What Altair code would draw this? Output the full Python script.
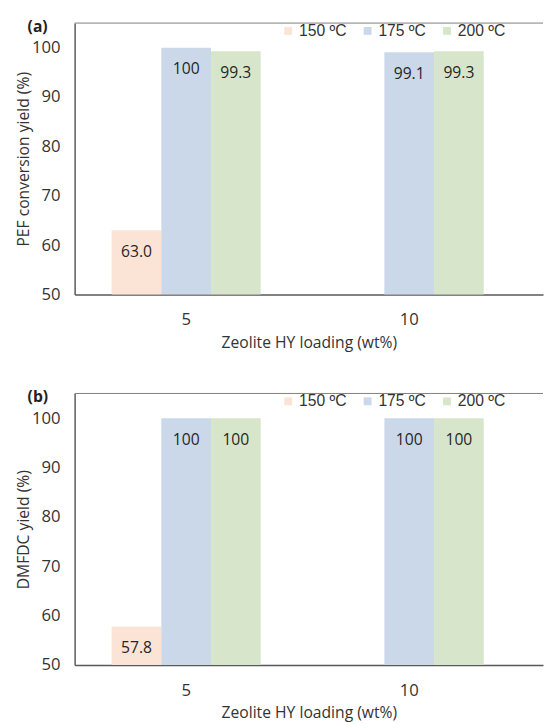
import altair as alt
import pandas as pd

loadings = ["5", "10"]
temps = ["150 ºC", "175 ºC", "200 ºC"]
colors = ["#FBE4D6", "#CBD8EA", "#D7E6CB"]

# Panel (a): PEF conversion yield (%)
pef_150 = [63.0, None]
pef_175 = [100.0, 99.1]
pef_200 = [99.3, 99.3]

# Panel (b): DMFDC yield (%)
dmfdc_150 = [57.8, None]
dmfdc_175 = [100.0, 100.0]
dmfdc_200 = [100.0, 100.0]

y_ticks = [50, 60, 70, 80, 90, 100]
AXIS_FONT = "Open Sans"
TXT = "#333333"


def panel(v150, v175, v200, ytitle, tag, h):
    rows = []
    for series, vals in zip(temps, [v150, v175, v200]):
        for l, v in zip(loadings, vals):
            if v is None:
                continue
            rows.append({"loading": l, "temp": series, "value": v,
                         "label": "100" if v == 100 else f"{v:.1f}"})
    df = pd.DataFrame(rows)

    x = alt.X("loading:N", sort=loadings,
              scale=alt.Scale(paddingInner=0, paddingOuter=0.05, align=0),
              axis=alt.Axis(title="Zeolite HY loading (wt%)", labelAngle=0, ticks=False,
                            domainColor="#595959", domainWidth=1.5,
                            labelPadding=18, titlePadding=7,
                            labelFont=AXIS_FONT, labelFontSize=17, labelColor=TXT,
                            titleFont=AXIS_FONT, titleFontSize=16, titleFontWeight="normal",
                            titleColor=TXT))
    xo = alt.XOffset("temp:N", sort=temps,
                     scale=alt.Scale(domain=temps, paddingInner=0, paddingOuter=0.745))
    y = alt.Y("value:Q",
              scale=alt.Scale(domain=[50, 105], nice=False, zero=False),
              axis=alt.Axis(values=y_ticks, grid=False, ticks=False, title=ytitle,
                            domainColor="#595959", domainWidth=1.5,
                            labelPadding=15, titlePadding=0,
                            labelFont=AXIS_FONT, labelFontSize=17, labelColor=TXT,
                            titleFont=AXIS_FONT, titleFontSize=16, titleFontWeight="normal",
                            titleColor=TXT))

    bars = alt.Chart(df).mark_bar().encode(
        x=x, xOffset=xo, y=y, y2=alt.datum(50),
        color=alt.Color("temp:N",
                        scale=alt.Scale(domain=temps, range=colors),
                        legend=alt.Legend(title=None, orient="none", legendX=210, legendY=0,
                                          direction="horizontal", symbolType="square",
                                          symbolSize=64, symbolStrokeWidth=0,
                                          labelFont="Liberation Sans", labelFontSize=16,
                                          labelColor=TXT, labelOffset=3, columnPadding=13)),
    )
    text = alt.Chart(df).mark_text(dy=22, font=AXIS_FONT, fontSize=16, color="#262626").encode(
        x=x, xOffset=xo, y="value:Q", text="label:N")
    one = pd.DataFrame({"a": [0]})
    top = alt.Chart(one).mark_rule(color="#808080", strokeWidth=1).encode(y=alt.datum(105))
    tagm = alt.Chart(one).mark_text(font=AXIS_FONT, fontSize=16, fontWeight="bold",
                                    color="#222222", align="left", baseline="middle").encode(
        x=alt.value(-48), y=alt.value(4), text=alt.value(tag))
    return alt.layer(bars, text, top, tagm).properties(width=478, height=h)


a = panel(pef_150, pef_175, pef_200, "PEF conversion yield (%)", "(a)", 277)
b = panel(dmfdc_150, dmfdc_175, dmfdc_200, "DMFDC yield (%)", "(b)", 277)

chart = alt.vconcat(a, b, spacing=40).resolve_scale(color="independent").resolve_legend(
    color="independent").properties(
    padding={"left": 7, "top": 4, "right": 0, "bottom": 0}
).configure_view(stroke=None)

chart.save("out.html", embed_options={"renderer": "svg", "actions": False})
